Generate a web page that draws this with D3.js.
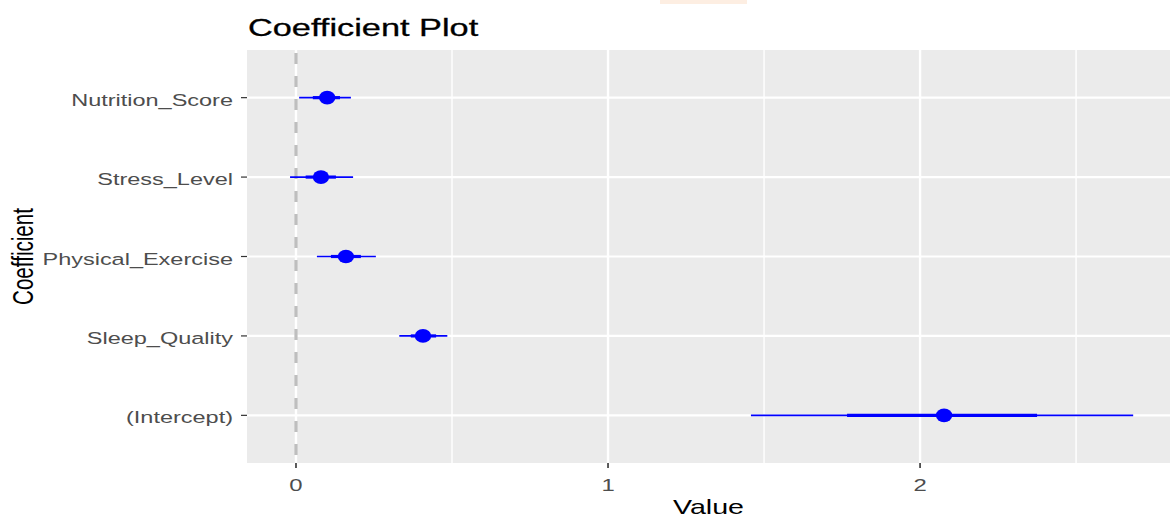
<!DOCTYPE html>
<html>
<head>
<meta charset="utf-8">
<script src="https://cdn.jsdelivr.net/npm/d3@7"></script>
<style>
  html, body { margin: 0; padding: 0; background: #ffffff; }
  svg { display: block; }
  text { font-family: "Liberation Sans", Arial, sans-serif; }
</style>
</head>
<body>
<svg id="chart" width="1170" height="517"></svg>
<script>
// ---- data ----
const terms      = ["(Intercept)", "Sleep_Quality", "Physical_Exercise", "Stress_Level", "Nutrition_Score"];
const estimates  = [2.077, 0.407, 0.160, 0.080, 0.100];
const innerLow   = [1.766, 0.368, 0.112, 0.031, 0.054];
const innerHigh  = [2.375, 0.449, 0.208, 0.128, 0.141];
const outerLow   = [1.458, 0.331, 0.067, -0.019, 0.010];
const outerHigh  = [2.683, 0.485, 0.256, 0.183, 0.176];
const xTicks     = [0, 1, 2];
const xMinor     = [0.5, 1.5, 2.5];
const titleText  = "Coefficient Plot";
const xTitle     = "Value";
const yTitle     = "Coefficient";

const rows = terms.map((t, i) => ({
  term: t, est: estimates[i],
  ilo: innerLow[i], ihi: innerHigh[i],
  olo: outerLow[i], ohi: outerHigh[i]
}));

// ---- layout ----
const SX = 1.39; // horizontal stretch of the reference image
const panel = { left: 247, right: 1170, top: 50, bottom: 463 };
const svg = d3.select("#chart");

// faint artifact at top
svg.append("rect").attr("x", 660).attr("y", 0).attr("width", 87).attr("height", 4)
  .attr("fill", "#fdeee2");

const x = d3.scaleLinear().domain([-0.157, 2.801]).range([panel.left, panel.right]);
const y = d3.scalePoint().domain(terms).range([panel.bottom, panel.top]).padding(0.6);

// panel background
svg.append("rect")
  .attr("x", panel.left).attr("y", panel.top)
  .attr("width", panel.right - panel.left).attr("height", panel.bottom - panel.top)
  .attr("fill", "#ebebeb");

const grid = svg.append("g");
grid.selectAll("line.minor").data(xMinor).join("line")
  .attr("x1", d => x(d)).attr("x2", d => x(d))
  .attr("y1", panel.top).attr("y2", panel.bottom)
  .attr("stroke", "#ffffff").attr("stroke-width", 1.4);
grid.selectAll("line.majorx").data(xTicks).join("line")
  .attr("x1", d => x(d)).attr("x2", d => x(d))
  .attr("y1", panel.top).attr("y2", panel.bottom)
  .attr("stroke", "#ffffff").attr("stroke-width", 2.4);
grid.selectAll("line.majory").data(terms).join("line")
  .attr("x1", panel.left).attr("x2", panel.right)
  .attr("y1", d => y(d)).attr("y2", d => y(d))
  .attr("stroke", "#ffffff").attr("stroke-width", 2.2);

// dashed zero line
svg.append("line")
  .attr("x1", x(0)).attr("x2", x(0))
  .attr("y1", panel.top).attr("y2", panel.bottom)
  .attr("stroke", "#bebebe").attr("stroke-width", 3.2)
  .attr("stroke-dasharray", "11,12").attr("stroke-dashoffset", -3);

// intervals
const marks = svg.append("g");
marks.selectAll("line.outer").data(rows).join("line")
  .attr("x1", d => x(d.olo)).attr("x2", d => x(d.ohi))
  .attr("y1", d => y(d.term)).attr("y2", d => y(d.term))
  .attr("stroke", "#0000ff").attr("stroke-width", 1.7);
marks.selectAll("line.inner").data(rows).join("line")
  .attr("x1", d => x(d.ilo)).attr("x2", d => x(d.ihi))
  .attr("y1", d => y(d.term)).attr("y2", d => y(d.term))
  .attr("stroke", "#0000ff").attr("stroke-width", 3.2);
marks.selectAll("ellipse").data(rows).join("ellipse")
  .attr("cx", d => x(d.est)).attr("cy", d => y(d.term))
  .attr("rx", 8.2).attr("ry", 6.8)
  .attr("fill", "#0000ff");

// y axis ticks + labels
svg.selectAll("line.ytick").data(terms).join("line")
  .attr("x1", panel.left - 6).attr("x2", panel.left)
  .attr("y1", d => y(d)).attr("y2", d => y(d))
  .attr("stroke", "#333333").attr("stroke-width", 1.2);
svg.selectAll("text.ylab").data(terms).join("text")
  .attr("transform", d => `translate(${panel.left - 14},${y(d) + 8}) scale(${SX},1)`)
  .attr("text-anchor", "end")
  .attr("font-size", 16.9).attr("fill", "#4d4d4d")
  .text(d => d);

// x axis ticks + labels
svg.selectAll("line.xtick").data(xTicks).join("line")
  .attr("x1", d => x(d)).attr("x2", d => x(d))
  .attr("y1", panel.bottom).attr("y2", panel.bottom + 5)
  .attr("stroke", "#333333").attr("stroke-width", 1.6);
svg.selectAll("text.xlab").data(xTicks).join("text")
  .attr("transform", d => `translate(${x(d)},491) scale(${SX},1)`)
  .attr("text-anchor", "middle")
  .attr("font-size", 17.2).attr("fill", "#4d4d4d")
  .text(d => d);

// axis titles
svg.append("text")
  .attr("transform", `translate(${(panel.left + panel.right) / 2},514) scale(${SX},1)`)
  .attr("text-anchor", "middle").attr("font-size", 20.6).attr("fill", "#000")
  .text(xTitle);
svg.append("text")
  .attr("transform", `translate(33,${(panel.top + panel.bottom) / 2}) scale(${SX},1) rotate(-90)`)
  .attr("text-anchor", "middle").attr("font-size", 20.6).attr("fill", "#000")
  .text(yTitle);

// title
svg.append("text")
  .attr("transform", `translate(248,36) scale(${SX},1)`)
  .attr("text-anchor", "start").attr("font-size", 24.7).attr("fill", "#000")
  .attr("stroke", "#000").attr("stroke-width", 0.3)
  .text(titleText);
</script>
</body>
</html>
